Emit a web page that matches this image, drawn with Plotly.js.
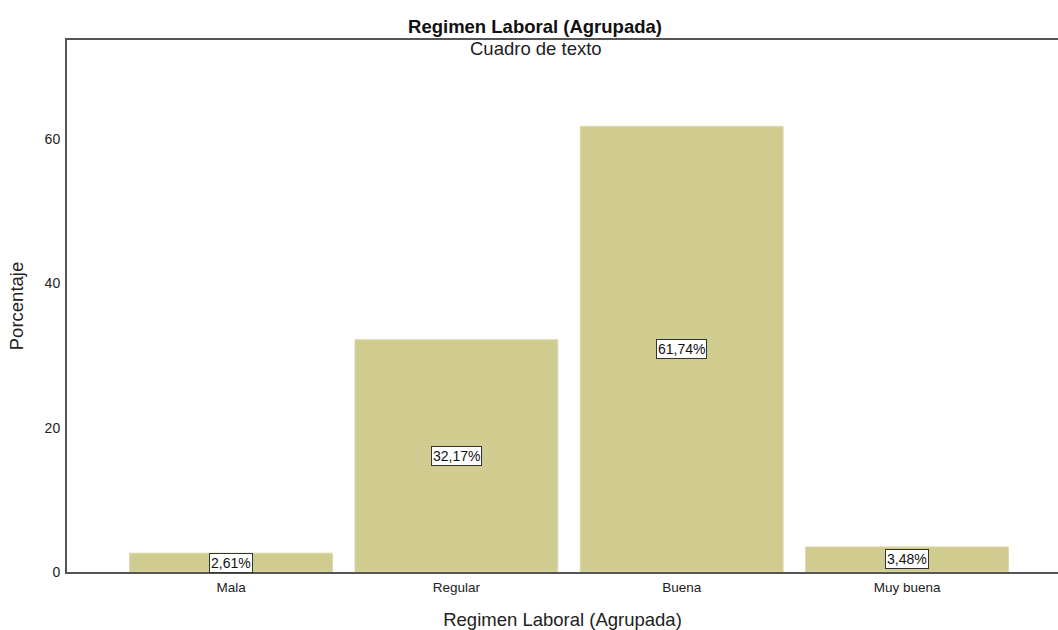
<!DOCTYPE html>
<html>
<head>
<meta charset="utf-8">
<script src="https://cdn.plot.ly/plotly-3.0.1.min.js"></script>
<style>
  html, body { margin: 0; padding: 0; background: #ffffff; }
  #chart { width: 1058px; height: 630px; }
</style>
</head>
<body>
<div id="chart"></div>
<script>
// Regimen Laboral (Agrupada): percentage per category
const categories = ['Mala', 'Regular', 'Buena', 'Muy buena'];
const percentages = [2.61, 32.17, 61.74, 3.48];
const yTicks = [0, 20, 40, 60];

const barColor = '#d0cb8f';
const axisColor = '#555555';
const font = 'Liberation Sans, Arial, sans-serif';

// Labels in Spanish number format, e.g. "32,17%"
const labelText = v => v.toFixed(2).replace('.', ',') + '%';

const trace = {
  type: 'bar',
  x: categories,
  y: percentages,
  width: 0.9,
  marker: { color: barColor, line: { color: '#dcd8a8', width: 1 } },
  hoverinfo: 'x+y'
};

// Value labels boxed in the middle of each bar
const valueLabels = categories.map((c, i) => ({
  x: c,
  y: percentages[i] / 2,
  xref: 'x',
  yref: 'y',
  text: labelText(percentages[i]),
  showarrow: false,
  font: { family: font, size: 14, color: '#111111' },
  bgcolor: '#ffffff',
  bordercolor: '#333333',
  borderwidth: 1,
  borderpad: 1
}));

const layout = {
  width: 1058,
  height: 630,
  paper_bgcolor: '#ffffff',
  plot_bgcolor: '#ffffff',
  margin: { l: 67, r: 0, t: 40, b: 58 },
  showlegend: false,
  bargap: 0.1,
  font: { family: font, color: '#222222' },
  title: {
    text: '<b>Regimen Laboral (Agrupada)</b>',
    font: { family: font, size: 18.5, color: '#111111' },
    x: 535 / 1058,
    xanchor: 'center',
    y: 1 - 27 / 630,
    yanchor: 'middle'
  },
  xaxis: {
    type: 'category',
    range: [-0.728, 3.67],
    showline: true,
    linecolor: axisColor,
    linewidth: 2,
    mirror: true,
    showgrid: false,
    zeroline: false,
    ticks: 'outside',
    ticklen: 2,
    tickcolor: 'rgba(0,0,0,0)',
    tickfont: { family: font, size: 13.5, color: '#222222' },
    title: {
      text: 'Regimen Laboral (Agrupada)',
      font: { family: font, size: 18.5, color: '#222222' },
      standoff: 20
    }
  },
  yaxis: {
    range: [0, 73.7],
    tickvals: yTicks,
    showline: true,
    linecolor: axisColor,
    linewidth: 2,
    showgrid: false,
    zeroline: false,
    ticks: 'outside',
    ticklen: 2,
    tickcolor: 'rgba(0,0,0,0)',
    tickfont: { family: font, size: 14, color: '#222222' },
    title: {
      text: 'Porcentaje',
      font: { family: font, size: 18.5, color: '#222222' },
      standoff: 16
    }
  },
  annotations: valueLabels.concat([{
    text: 'Cuadro de texto',
    xref: 'paper',
    yref: 'paper',
    x: (536 - 67) / 991,
    y: 1 - (48 - 40) / 532,
    xanchor: 'center',
    yanchor: 'middle',
    showarrow: false,
    font: { family: font, size: 18.5, color: '#222222' }
  }])
};

Plotly.newPlot('chart', [trace], layout, { displayModeBar: false, staticPlot: true });
</script>
</body>
</html>
